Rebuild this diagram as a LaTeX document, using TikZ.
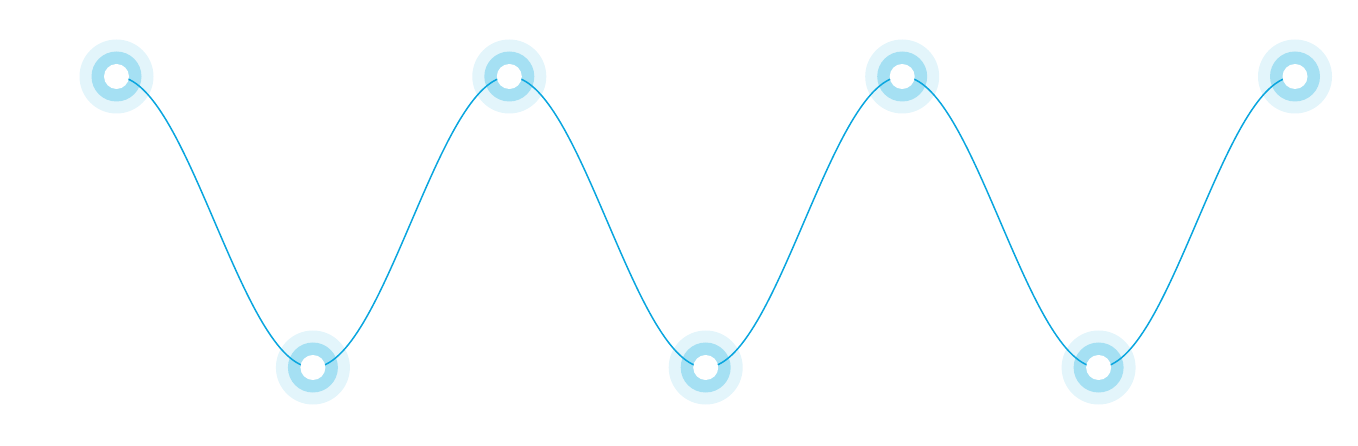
\documentclass[tikz,border=0pt]{standalone}
\usepackage{tikz}
\definecolor{halo}{HTML}{E3F5FB}
\definecolor{ringc}{HTML}{A5E0F3}
\definecolor{wave}{HTML}{0AA6DF}
\tikzset{
  halo/.style={circle, fill=halo, minimum size=74pt, inner sep=0pt, outer sep=0pt},
  ringdot/.style={circle, fill=ringc, minimum size=50pt, inner sep=0pt},
  hole/.style={circle, fill=white, minimum size=25pt, inner sep=0pt},
  wavepath/.style={draw=wave, line width=1.5pt},
}
\begin{document}
\begin{tikzpicture}[x=1pt,y=-1pt]
\useasboundingbox (0,0) rectangle (1358,446);
\foreach \i/\x/\y in {1/116.5/76.5, 2/312.9/367.5, 3/509.3/76.5, 4/705.7/367.5, 5/902.2/76.5, 6/1098.6/367.5, 7/1295/76.5} {
  \node[halo] (n\i) at (\x,\y) {};
  \node[ringdot] (r\i) at (\x,\y) {};
}
\foreach \a/\b in {1/2,2/3,3/4,4/5,5/6,6/7} {
  \draw[wavepath] (n\a.center) .. controls +(71.4,0) and +(-71.4,0) .. (n\b.center);
}
\foreach \i in {1,...,7} {
  \node[hole] (h\i) at (n\i) {};
}
\end{tikzpicture}
\end{document}
